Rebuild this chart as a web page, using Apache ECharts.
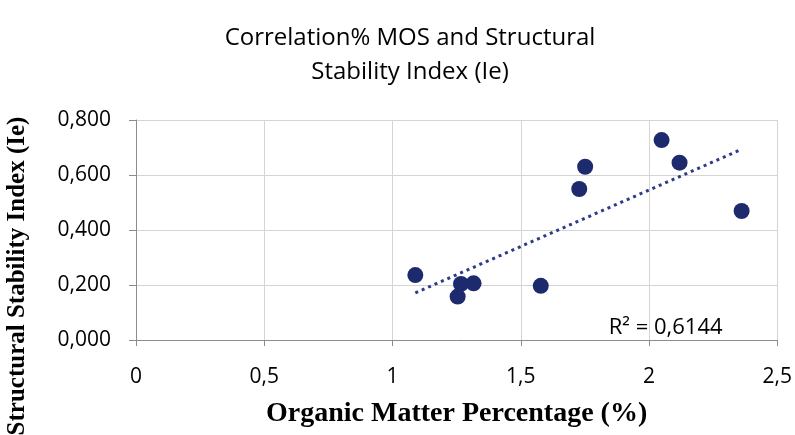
<!DOCTYPE html>
<html>
<head>
<meta charset="utf-8">
<script src="https://cdn.jsdelivr.net/npm/echarts@6/dist/echarts.min.js"></script>
<style>
  html, body { margin: 0; padding: 0; background: #fff; }
  #main { width: 795px; height: 435px; }
</style>
</head>
<body>
<div id="main"></div>
<script>
// organic matter (%) and structural stability index
const omPercent = [1.089, 1.254, 1.267, 1.316, 1.578, 1.728, 1.751, 2.049, 2.119, 2.361]
const stabilityIe = [0.236, 0.158, 0.204, 0.206, 0.197, 0.549, 0.630, 0.727, 0.645, 0.469]
const r2Label = 'R² = 0,6144'

const points = omPercent.map((x, i) => [x, stabilityIe[i]])

// linear trend line (least squares) between min and max x
const n = omPercent.length
const mx = omPercent.reduce((a, b) => a + b, 0) / n
const my = stabilityIe.reduce((a, b) => a + b, 0) / n
let sxy = 0, sxx = 0
for (let i = 0; i < n; i++) {
  sxy += (omPercent[i] - mx) * (stabilityIe[i] - my)
  sxx += (omPercent[i] - mx) ** 2
}
const slope = sxy / sxx
const icpt = my - slope * mx
const x0 = Math.min(...omPercent), x1 = Math.max(...omPercent)
const trend = [[x0, icpt + slope * x0], [x1, icpt + slope * x1]]

const navy = '#1e2a6e'
const comma = v => String(v).replace('.', ',')

const chart = echarts.init(document.getElementById('main'))
chart.setOption({
  backgroundColor: '#fff',
  animation: false,
  title: {
    text: 'Correlation% MOS and Structural\nStability Index (Ie)',
    left: 405,
    textAlign: 'center',
    top: 16,
    textStyle: {
      fontFamily: 'Open Sans',
      fontWeight: 'normal',
      fontSize: 24,
      lineHeight: 34,
      color: '#000'
    }
  },
  grid: { left: 136, right: 16, top: 120, bottom: 95 },
  xAxis: {
    type: 'value',
    min: 0,
    max: 2.5,
    interval: 0.5,
    name: 'Organic Matter Percentage (%)',
    nameLocation: 'middle',
    nameGap: 60,
    nameTextStyle: {
      fontFamily: 'Liberation Serif',
      fontWeight: 'bold',
      fontSize: 28,
      color: '#000'
    },
    axisLine: { lineStyle: { color: '#8c8c8c', width: 1 } },
    axisTick: { show: true, length: 6, lineStyle: { color: '#8c8c8c' } },
    axisLabel: {
      formatter: comma,
      fontFamily: 'Open Sans',
      fontSize: 21,
      color: '#000',
      margin: 27
    },
    splitLine: { show: true, lineStyle: { color: '#d4d4d4', width: 1 } }
  },
  yAxis: {
    type: 'value',
    min: 0,
    max: 0.8,
    interval: 0.2,
    axisLine: { show: true, lineStyle: { color: '#8c8c8c', width: 1 } },
    axisTick: { show: true, length: 7, lineStyle: { color: '#8c8c8c' } },
    axisLabel: {
      formatter: v => v.toFixed(3).replace('.', ','),
      fontFamily: 'Open Sans',
      fontSize: 21,
      color: '#000',
      margin: 25
    },
    splitLine: { show: true, lineStyle: { color: '#d4d4d4', width: 1 } }
  },
  graphic: [
    {
      type: 'text',
      x: 18,
      y: 276,
      rotation: Math.PI / 2,
      style: {
        text: 'Structural Stability Index (Ie)',
        font: 'bold 25px "Liberation Serif"',
        fill: '#000',
        align: 'center',
        verticalAlign: 'middle'
      }
    }
  ],
  series: [
    {
      type: 'scatter',
      data: points,
      symbolSize: 16,
      itemStyle: { color: navy, opacity: 1 },
      z: 3
    },
    {
      type: 'line',
      data: trend,
      symbol: 'none',
      lineStyle: { color: '#2a3a8c', width: 3, type: [3, 4] },
      z: 2,
      markPoint: {
        symbol: 'rect',
        symbolSize: 0,
        data: [{ coord: [2.065, 0.044], value: r2Label }],
        label: {
          show: true,
          formatter: r2Label,
          fontFamily: 'Open Sans',
          fontSize: 22,
          color: '#000',
          position: 'inside'
        }
      }
    }
  ]
})
</script>
</body>
</html>
